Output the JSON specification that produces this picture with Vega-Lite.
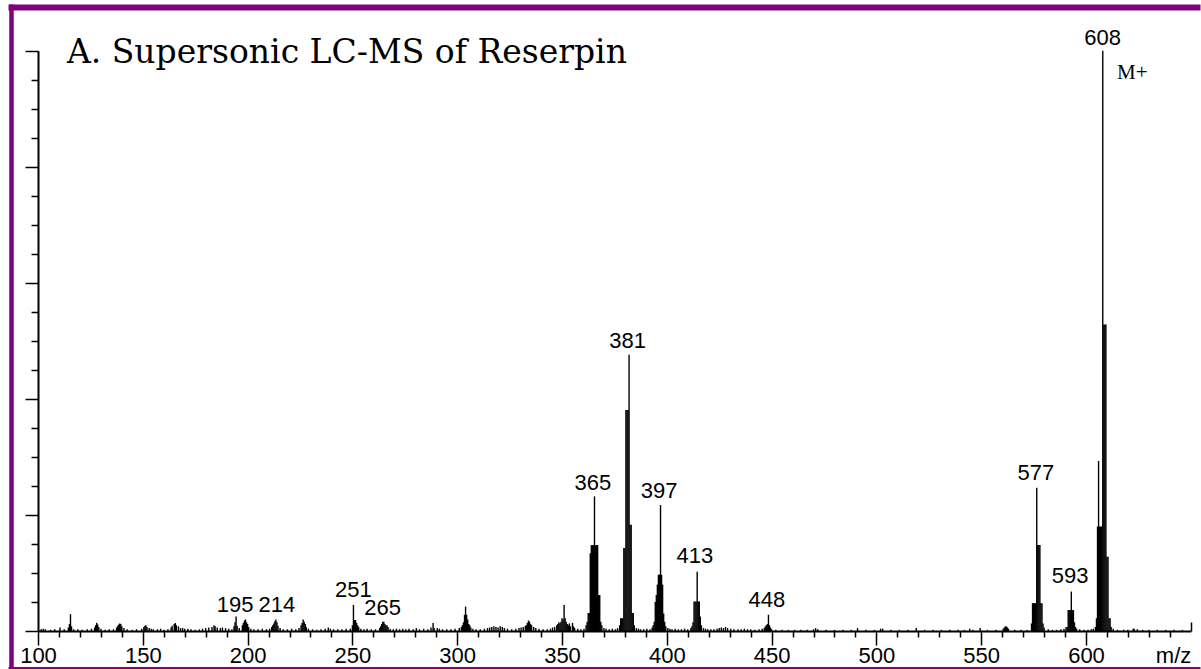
{
"$schema": "https://vega.github.io/schema/vega-lite/v6.json",
"width": 1190, "height": 662,
"autosize": {"type": "none"},
"padding": {"left": 11, "top": 7, "right": 0, "bottom": 0},
"background": "white",
"config": {"view": {"stroke": null, "fill": "white"}, "font": "Liberation Sans"},
"resolve": {"scale": {"x": "independent", "y": "independent"}, "axis": {"x": "independent", "y": "independent"}},
"datasets": {
"spectrum": [
{"mz":101.5,"i":0.3},{"mz":102.5,"i":0.4},{"mz":103.5,"i":0.3},{"mz":106,"i":0.2},{"mz":108,"i":0.3},{"mz":110.5,"i":0.6},{"mz":112.5,"i":0.3},{"mz":114.5,"i":0.6},{"mz":115,"i":1.2},{"mz":115.5,"i":2.9},{"mz":116,"i":0.8},{"mz":117,"i":0.3},{"mz":119,"i":0.3},{"mz":121,"i":0.2},{"mz":123.5,"i":0.3},{"mz":125.5,"i":0.4},{"mz":127,"i":0.6},{"mz":127.5,"i":1.0},{"mz":128,"i":1.4},{"mz":128.5,"i":1.1},{"mz":129,"i":0.7},{"mz":130,"i":0.4},{"mz":132,"i":0.2},{"mz":134,"i":0.3},{"mz":136,"i":0.3},{"mz":137.5,"i":0.6},{"mz":138,"i":0.9},{"mz":138.5,"i":1.1},{"mz":139,"i":1.3},{"mz":139.5,"i":1.2},{"mz":140,"i":0.8},{"mz":141,"i":0.5},{"mz":142.5,"i":0.3},{"mz":145,"i":0.2},{"mz":147,"i":0.3},{"mz":149.5,"i":0.4},{"mz":150.5,"i":0.7},{"mz":151,"i":0.9},{"mz":151.5,"i":1.0},{"mz":152,"i":0.7},{"mz":153,"i":0.5},{"mz":154,"i":0.4},{"mz":155,"i":0.3},{"mz":157,"i":0.3},{"mz":158.5,"i":0.4},{"mz":160,"i":0.2},{"mz":162,"i":0.3},{"mz":163.5,"i":0.6},{"mz":164,"i":0.9},{"mz":165,"i":1.2},{"mz":165.5,"i":1.4},{"mz":166,"i":1.0},{"mz":167,"i":0.8},{"mz":168,"i":0.5},{"mz":169,"i":0.5},{"mz":170,"i":0.4},{"mz":171.5,"i":0.4},{"mz":173,"i":0.3},{"mz":175,"i":0.2},{"mz":177,"i":0.3},{"mz":178.5,"i":0.4},{"mz":180,"i":0.5},{"mz":181.5,"i":0.6},{"mz":183,"i":0.7},{"mz":184,"i":1.0},{"mz":184.5,"i":0.8},{"mz":185.5,"i":0.6},{"mz":187,"i":0.5},{"mz":188,"i":0.6},{"mz":189.5,"i":0.5},{"mz":191,"i":0.4},{"mz":192.5,"i":0.3},{"mz":193.5,"i":0.8},{"mz":194,"i":1.5},{"mz":194.5,"i":2.5},{"mz":195,"i":0.9},{"mz":196,"i":0.5},{"mz":197.5,"i":1.0},{"mz":198,"i":1.4},{"mz":198.5,"i":1.8},{"mz":199,"i":2.0},{"mz":199.5,"i":1.5},{"mz":200,"i":1.2},{"mz":200.5,"i":0.7},{"mz":201.5,"i":0.4},{"mz":203,"i":0.3},{"mz":205,"i":0.3},{"mz":207,"i":0.4},{"mz":209,"i":0.3},{"mz":210.5,"i":0.4},{"mz":211.5,"i":0.7},{"mz":212,"i":1.0},{"mz":212.5,"i":1.3},{"mz":213,"i":1.7},{"mz":213.5,"i":2.0},{"mz":214,"i":1.5},{"mz":214.5,"i":0.9},{"mz":215.5,"i":0.5},{"mz":217,"i":0.3},{"mz":219,"i":0.3},{"mz":221,"i":0.4},{"mz":223,"i":0.3},{"mz":224.5,"i":0.5},{"mz":225.5,"i":1.0},{"mz":226,"i":1.4},{"mz":226.5,"i":2.0},{"mz":227,"i":1.6},{"mz":227.5,"i":1.2},{"mz":228,"i":0.7},{"mz":229,"i":0.4},{"mz":231,"i":0.3},{"mz":233,"i":0.2},{"mz":235,"i":0.3},{"mz":237,"i":0.4},{"mz":238.5,"i":0.6},{"mz":239.5,"i":0.4},{"mz":241,"i":0.3},{"mz":243,"i":0.3},{"mz":245,"i":0.3},{"mz":247,"i":0.4},{"mz":249,"i":0.4},{"mz":250,"i":1.0},{"mz":250.5,"i":4.5},{"mz":251,"i":1.9},{"mz":251.5,"i":1.9},{"mz":252,"i":1.4},{"mz":252.5,"i":1.0},{"mz":253,"i":0.7},{"mz":254,"i":0.4},{"mz":255.5,"i":0.3},{"mz":257,"i":0.4},{"mz":259,"i":0.3},{"mz":261,"i":0.3},{"mz":263,"i":0.5},{"mz":263.5,"i":0.8},{"mz":264,"i":1.2},{"mz":264.5,"i":1.6},{"mz":265,"i":1.6},{"mz":265.5,"i":1.2},{"mz":266,"i":1.0},{"mz":266.5,"i":1.0},{"mz":267,"i":0.7},{"mz":268,"i":0.4},{"mz":269.5,"i":0.3},{"mz":271,"i":0.4},{"mz":272.5,"i":0.3},{"mz":274,"i":0.4},{"mz":275.5,"i":0.3},{"mz":277,"i":0.4},{"mz":279,"i":0.3},{"mz":280.5,"i":0.5},{"mz":282,"i":0.3},{"mz":284,"i":0.4},{"mz":286,"i":0.3},{"mz":287.5,"i":0.6},{"mz":288.5,"i":1.4},{"mz":289,"i":0.5},{"mz":290.5,"i":0.5},{"mz":291.5,"i":0.4},{"mz":293,"i":0.3},{"mz":295,"i":0.3},{"mz":297,"i":0.3},{"mz":299,"i":0.4},{"mz":301,"i":0.5},{"mz":302,"i":0.7},{"mz":302.5,"i":1.0},{"mz":303,"i":1.5},{"mz":303.5,"i":2.8},{"mz":304,"i":4.2},{"mz":304.5,"i":2.8},{"mz":305,"i":2.0},{"mz":305.5,"i":1.2},{"mz":306,"i":1.0},{"mz":306.5,"i":0.6},{"mz":307.5,"i":0.4},{"mz":309,"i":0.3},{"mz":311,"i":0.3},{"mz":313,"i":0.4},{"mz":314.5,"i":0.5},{"mz":315.5,"i":0.6},{"mz":316.5,"i":0.7},{"mz":317.5,"i":0.8},{"mz":318.5,"i":0.7},{"mz":319.5,"i":0.6},{"mz":320.5,"i":0.8},{"mz":321.5,"i":0.7},{"mz":322.5,"i":0.5},{"mz":324,"i":0.4},{"mz":326,"i":0.3},{"mz":328,"i":0.4},{"mz":329.5,"i":0.5},{"mz":330.5,"i":0.6},{"mz":331.5,"i":0.7},{"mz":332.5,"i":0.9},{"mz":333,"i":1.0},{"mz":333.5,"i":1.4},{"mz":334,"i":1.8},{"mz":334.5,"i":1.6},{"mz":335,"i":1.2},{"mz":335.5,"i":1.0},{"mz":336.5,"i":0.7},{"mz":337.5,"i":0.5},{"mz":339,"i":0.4},{"mz":341,"i":0.3},{"mz":343,"i":0.3},{"mz":344.5,"i":0.4},{"mz":345.5,"i":0.6},{"mz":346.5,"i":0.7},{"mz":347.5,"i":1.0},{"mz":348,"i":1.2},{"mz":348.5,"i":1.5},{"mz":349,"i":1.3},{"mz":349.5,"i":1.6},{"mz":350,"i":2.2},{"mz":350.5,"i":2.0},{"mz":351,"i":4.5},{"mz":351.5,"i":2.2},{"mz":352,"i":1.6},{"mz":352.5,"i":1.2},{"mz":353,"i":1.0},{"mz":353.5,"i":1.3},{"mz":354,"i":0.8},{"mz":355,"i":1.4},{"mz":355.5,"i":0.8},{"mz":356,"i":0.5},{"mz":357.5,"i":0.4},{"mz":359,"i":0.3},{"mz":360.5,"i":0.4},
{"mz":361.5,"i":1.0},{"mz":362,"i":1.6},{"mz":362.5,"i":3.1},{"mz":363,"i":3.1},{"mz":363.5,"i":13.4},{"mz":364,"i":14.8},{"mz":364.5,"i":14.8},{"mz":365,"i":14.8},{"mz":365.5,"i":23.2},{"mz":366,"i":14.8},{"mz":366.5,"i":14.8},{"mz":367,"i":14.8},{"mz":367.5,"i":6.2},{"mz":368,"i":6.2},{"mz":368.5,"i":1.6},{"mz":369,"i":1.0},
{"mz":370,"i":0.5},{"mz":371,"i":0.4},{"mz":372.5,"i":0.3},{"mz":374,"i":0.4},{"mz":375.5,"i":0.3},{"mz":376.5,"i":0.5},
{"mz":377.5,"i":1.0},{"mz":378,"i":2.2},{"mz":378.5,"i":2.2},{"mz":379,"i":2.2},{"mz":379.5,"i":14.3},{"mz":380,"i":14.3},{"mz":380.5,"i":38.1},{"mz":381,"i":38.1},{"mz":381.5,"i":38.1},{"mz":382,"i":47.6},{"mz":382.5,"i":18.3},{"mz":383,"i":18.3},{"mz":383.5,"i":3.1},{"mz":384,"i":3.1},{"mz":384.5,"i":1.0},
{"mz":385.5,"i":0.5},{"mz":386.5,"i":0.4},{"mz":387.5,"i":0.3},{"mz":389,"i":0.3},{"mz":390.5,"i":0.4},{"mz":392,"i":0.3},{"mz":393,"i":0.6},
{"mz":393.5,"i":1.0},{"mz":394,"i":1.6},{"mz":394.5,"i":5.0},{"mz":395,"i":6.2},{"mz":395.5,"i":8.0},{"mz":396,"i":9.7},{"mz":396.5,"i":9.7},{"mz":397,"i":21.7},{"mz":397.5,"i":9.7},{"mz":398,"i":8.0},{"mz":398.5,"i":3.0},{"mz":399,"i":1.6},{"mz":399.5,"i":0.8},
{"mz":400.5,"i":0.5},{"mz":401.5,"i":0.4},{"mz":402.5,"i":0.3},{"mz":404,"i":0.4},{"mz":405.5,"i":0.3},{"mz":407,"i":0.3},{"mz":408.5,"i":0.4},{"mz":410,"i":0.3},{"mz":411.5,"i":0.5},
{"mz":412,"i":0.8},{"mz":412.5,"i":1.5},{"mz":413,"i":5.1},{"mz":413.5,"i":5.1},{"mz":414,"i":5.1},{"mz":414.5,"i":10.2},{"mz":415,"i":5.1},{"mz":415.5,"i":5.1},{"mz":416,"i":2.5},{"mz":416.5,"i":1.0},
{"mz":417.5,"i":0.5},{"mz":418.5,"i":0.4},{"mz":419.5,"i":0.3},{"mz":421,"i":0.3},{"mz":422.5,"i":0.3},{"mz":424,"i":0.4},{"mz":425,"i":0.5},{"mz":426,"i":0.6},{"mz":427,"i":0.5},{"mz":428,"i":0.7},{"mz":429,"i":0.5},{"mz":430.5,"i":0.4},{"mz":432,"i":0.3},{"mz":434,"i":0.3},{"mz":435.5,"i":0.3},{"mz":437,"i":0.4},{"mz":438.5,"i":0.3},{"mz":440,"i":0.3},{"mz":442,"i":0.2},{"mz":444,"i":0.3},{"mz":445.5,"i":0.4},
{"mz":446.5,"i":0.5},{"mz":447,"i":0.8},{"mz":447.5,"i":1.0},{"mz":448,"i":1.2},{"mz":448.5,"i":2.8},{"mz":449,"i":1.0},{"mz":449.5,"i":0.6},{"mz":450,"i":0.3},
{"mz":452,"i":0.2},{"mz":455,"i":0.2},{"mz":458,"i":0.2},{"mz":461,"i":0.2},{"mz":464,"i":0.2},{"mz":467,"i":0.2},{"mz":470,"i":0.3},{"mz":471,"i":0.5},{"mz":472,"i":0.3},{"mz":476,"i":0.2},{"mz":480,"i":0.2},{"mz":484,"i":0.2},{"mz":488,"i":0.2},{"mz":491,"i":0.5},{"mz":495,"i":0.2},{"mz":499,"i":0.2},{"mz":502,"i":0.4},{"mz":503,"i":0.4},{"mz":507,"i":0.2},{"mz":511,"i":0.2},{"mz":515,"i":0.2},{"mz":519,"i":0.5},{"mz":523,"i":0.2},{"mz":527,"i":0.2},{"mz":531,"i":0.2},{"mz":535,"i":0.2},{"mz":539,"i":0.2},{"mz":542,"i":0.2},{"mz":544.5,"i":0.4},{"mz":546,"i":0.2},{"mz":549.5,"i":0.5},{"mz":553,"i":0.2},{"mz":557,"i":0.2},{"mz":560.5,"i":0.4},{"mz":561,"i":0.6},{"mz":561.5,"i":0.8},{"mz":562,"i":0.8},{"mz":562.5,"i":0.6},{"mz":563,"i":0.4},{"mz":566,"i":0.2},{"mz":569,"i":0.2},{"mz":572,"i":0.2},
{"mz":574,"i":1.3},{"mz":574.5,"i":4.8},{"mz":575,"i":4.8},{"mz":575.5,"i":4.8},{"mz":576,"i":4.8},{"mz":576.5,"i":24.7},{"mz":577,"i":14.8},{"mz":577.5,"i":14.8},{"mz":578,"i":14.8},{"mz":578.5,"i":4.8},{"mz":579,"i":4.8},{"mz":579.5,"i":1.3},{"mz":580,"i":0.6},
{"mz":582,"i":0.3},{"mz":584,"i":0.2},{"mz":586,"i":0.2},{"mz":588,"i":0.3},{"mz":589.5,"i":0.4},
{"mz":590.5,"i":0.7},{"mz":591,"i":0.7},{"mz":591.5,"i":3.6},{"mz":592,"i":3.6},{"mz":592.5,"i":3.6},{"mz":593,"i":6.8},{"mz":593.5,"i":3.6},{"mz":594,"i":3.6},{"mz":594.5,"i":1.5},{"mz":595,"i":0.7},{"mz":595.5,"i":0.4},
{"mz":597,"i":0.3},{"mz":599,"i":0.2},{"mz":601,"i":0.2},{"mz":602.5,"i":0.3},{"mz":603.5,"i":0.4},
{"mz":604.5,"i":0.7},{"mz":605,"i":2.2},{"mz":605.5,"i":18},{"mz":606,"i":29.3},{"mz":606.5,"i":18},{"mz":607,"i":18},{"mz":607.5,"i":18},{"mz":608,"i":100},{"mz":608.5,"i":52.8},{"mz":609,"i":52.8},{"mz":609.5,"i":52.8},{"mz":610,"i":12.8},{"mz":610.5,"i":12.8},{"mz":611,"i":2.2},{"mz":611.5,"i":2.2},{"mz":612,"i":0.7},
{"mz":613,"i":0.4},{"mz":615,"i":0.2},{"mz":618,"i":0.2},{"mz":620,"i":0.2},{"mz":622.5,"i":0.4},{"mz":623,"i":0.4},{"mz":624.5,"i":0.3},{"mz":627,"i":0.2},{"mz":630,"i":0.2},{"mz":634,"i":0.2},{"mz":638,"i":0.2},{"mz":642,"i":0.2},{"mz":646,"i":0.2}
],
"peakLabels": [
{"mz":194.0,"i":3.33,"text":"195"},{"mz":214.0,"i":3.33,"text":"214"},{"mz":250.5,"i":5.9,"text":"251"},{"mz":264.4,"i":2.76,"text":"265"},{"mz":364.7,"i":24.3,"text":"365"},{"mz":381.3,"i":48.7,"text":"381"},{"mz":396.3,"i":22.9,"text":"397"},{"mz":413.4,"i":11.7,"text":"413"},{"mz":447.7,"i":4.1,"text":"448"},{"mz":576.1,"i":26.0,"text":"577"},{"mz":592.4,"i":8.2,"text":"593"},{"mz":607.9,"i":101.0,"text":"608"}
],
"titleText": [{"mz":113.8,"i":97.9,"text":"A. Supersonic LC-MS of Reserpin"}],
"ionText": [{"mz":614.8,"i":95.2,"text":"M+"}],
"frame": [{"fx":0,"fy":0}]
},
"layer": [
{
"encoding": {
"x": {"field": "mz", "type": "quantitative",
 "scale": {"domain": [100, 650], "range": [27, 1179.8], "nice": false, "zero": false},
 "axis": {"orient": "bottom", "offset": -38, "title": null, "grid": false,
  "values": [100,110,120,130,140,150,160,170,180,190,200,210,220,230,240,250,260,270,280,290,300,310,320,330,340,350,360,370,380,390,400,410,420,430,440,450,460,470,480,490,500,510,520,530,540,550,560,570,580,590,600,610,620,630,640,650],
  "format": "d",
  "labelExpr": "datum.value == 650 ? 'm/z' : (datum.value % 50 == 0 ? datum.label : '')",
  "labelAlign": {"condition": {"test": "datum.value == 650", "value": "right"}, "value": "center"},
  "labelFont": "Liberation Sans", "labelFontSize": 22, "labelColor": "black",
  "labelPadding": {"condition": {"test": "datum.value == 650", "value": 23.4}, "value": 0.4},
  "labelOverlap": false, "labelFlush": false, "labelBound": false,
  "domainColor": "black", "domainWidth": 2, "tickColor": "black", "tickWidth": 1.5,
  "tickSize": {"condition": [{"test": "datum.value == 650", "value": -9}, {"test": "datum.value % 50 == 0", "value": 14}], "value": 6},
  "zindex": 1}},
"y": {"field": "i", "type": "quantitative",
 "scale": {"domain": [0, 100], "range": [624, 43.7], "nice": false, "zero": false},
 "axis": {"orient": "left", "offset": -27, "title": null, "grid": false, "labels": false,
  "values": [0,5,10,15,20,25,30,35,40,45,50,55,60,65,70,75,80,85,90,95,100],
  "domainColor": "black", "domainWidth": 2, "tickColor": "black", "tickWidth": 1.5,
  "tickSize": {"condition": {"test": "datum.value % 20 == 0", "value": 13}, "value": 7},
  "zindex": 1}}
},
"layer": [
{"data": {"name": "spectrum"}, "mark": {"type": "rule", "color": "black", "strokeWidth": 1.4}, "encoding": {"y2": {"datum": 0}}},
{"data": {"name": "peakLabels"}, "mark": {"type": "text", "font": "Liberation Sans", "fontSize": 22, "align": "center", "baseline": "alphabetic", "color": "black"}, "encoding": {"text": {"field": "text"}}},
{"data": {"name": "titleText"}, "mark": {"type": "text", "font": "DejaVu Serif", "fontSize": 33, "align": "left", "baseline": "alphabetic", "color": "black"}, "encoding": {"text": {"field": "text"}}},
{"data": {"name": "ionText"}, "mark": {"type": "text", "font": "Liberation Serif", "fontSize": 21, "align": "left", "baseline": "alphabetic", "color": "black"}, "encoding": {"text": {"field": "text"}}}
]
},
{
"data": {"name": "frame"},
"mark": {"type": "point", "opacity": 0},
"encoding": {
 "x": {"field": "fx", "type": "quantitative", "scale": {"domain": [0, 1], "range": [-3, 1189]},
  "axis": {"orient": "top", "offset": 0, "title": null, "grid": false, "ticks": false, "labels": false, "domainColor": "#800080", "domainWidth": 6}},
 "y": {"field": "fy", "type": "quantitative", "scale": {"domain": [0, 1], "range": [662, -3]},
  "axis": {"orient": "left", "offset": 0, "title": null, "grid": false, "ticks": false, "labels": false, "domainColor": "#800080", "domainWidth": 4.5}}
}
},
{
"data": {"name": "frame"},
"mark": {"type": "point", "opacity": 0},
"encoding": {
 "x": {"field": "fx", "type": "quantitative", "scale": {"domain": [0, 1], "range": [-3, 1189]},
  "axis": {"orient": "bottom", "offset": -1.5, "title": null, "grid": false, "ticks": false, "labels": false, "domainColor": "#800080", "domainWidth": 2}},
 "y": {"field": "fy", "type": "quantitative", "scale": {"domain": [0, 1], "range": [662, -3]}, "axis": null}
}
}
]
}
